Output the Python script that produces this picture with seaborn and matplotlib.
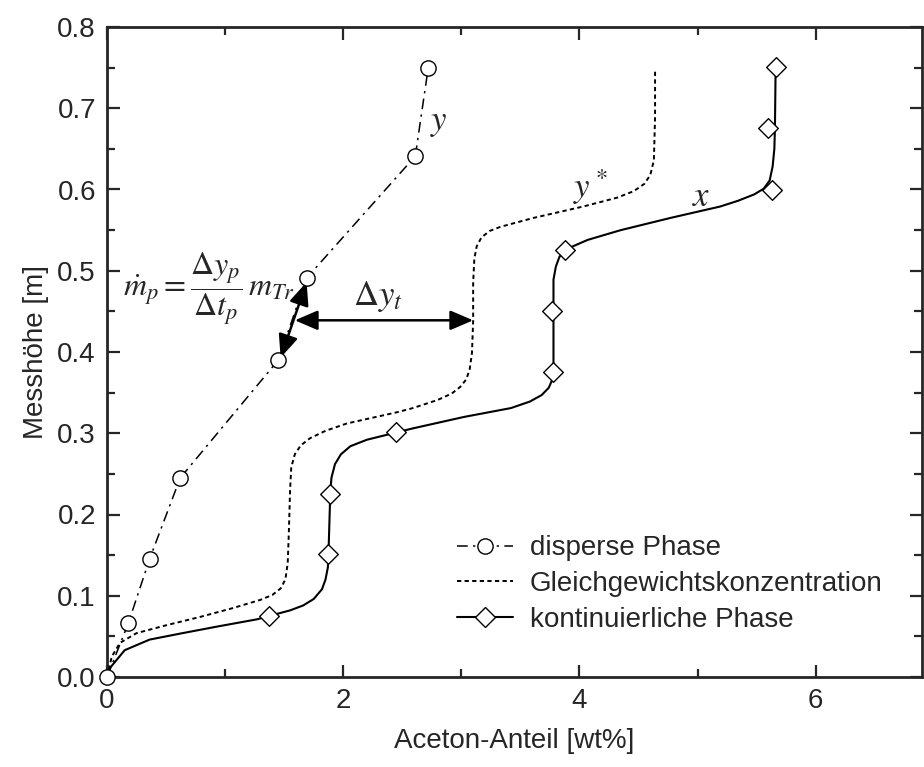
import matplotlib
matplotlib.use("Agg")
import matplotlib.pyplot as plt
import seaborn as sns
from matplotlib.lines import Line2D
from matplotlib.ticker import MultipleLocator, FormatStrFormatter

# disperse Phase (measured points, circles)
disp_x = [0, 0.18, 0.36, 0.62, 1.45, 1.69, 2.61, 2.72]
disp_y = [0, 0.066, 0.145, 0.245, 0.39, 0.491, 0.641, 0.75]

# kontinuierliche Phase (measured points, diamonds)
kont_x = [1.37, 1.875, 1.89, 2.45, 3.78, 3.77, 3.88, 5.63, 5.60, 5.66]
kont_y = [0.075, 0.151, 0.225, 0.301, 0.375, 0.45, 0.525, 0.60, 0.676, 0.751]

# fitted curve of the continuous phase
kont_curve_x = [0, 0.03, 0.15, 0.36, 0.64, 0.93, 1.27, 1.37, 1.55, 1.66, 1.75, 1.82,
                1.85, 1.87, 1.875, 1.89, 1.90, 1.93, 1.98, 2.06, 2.20, 2.45, 2.59,
                3.02, 3.42, 3.58, 3.68, 3.74, 3.77, 3.78, 3.78, 3.78, 3.80, 3.83,
                3.88, 4.07, 4.35, 4.77, 5.19, 5.34, 5.48, 5.56, 5.61, 5.635, 5.65,
                5.655, 5.66, 5.66]
kont_curve_y = [0, 0.012, 0.033, 0.046, 0.054, 0.062, 0.071, 0.075, 0.082, 0.088,
                0.096, 0.108, 0.120, 0.135, 0.151, 0.225, 0.245, 0.262, 0.274, 0.284,
                0.292, 0.301, 0.306, 0.320, 0.331, 0.339, 0.347, 0.356, 0.366, 0.374,
                0.449, 0.489, 0.505, 0.517, 0.526, 0.538, 0.550, 0.565, 0.579, 0.586,
                0.594, 0.601, 0.611, 0.628, 0.650, 0.676, 0.74, 0.751]

# Gleichgewichtskonzentration y*
gg_x = [0, 0.04, 0.11, 0.25, 0.51, 0.79, 1.07, 1.30, 1.40, 1.47, 1.51, 1.53, 1.54,
        1.55, 1.56, 1.59, 1.64, 1.72, 1.85, 2.03, 2.46, 2.59, 2.80, 2.92, 2.99,
        3.04, 3.07, 3.09, 3.10, 3.10, 3.11, 3.13, 3.17, 3.24, 3.33, 3.61, 4.03,
        4.32, 4.46, 4.55, 4.60, 4.63, 4.64, 4.64]
gg_y = [0, 0.025, 0.042, 0.054, 0.064, 0.074, 0.085, 0.095, 0.101, 0.109, 0.120,
        0.140, 0.180, 0.230, 0.258, 0.274, 0.285, 0.294, 0.303, 0.312, 0.326, 0.331,
        0.341, 0.349, 0.357, 0.366, 0.378, 0.399, 0.439, 0.485, 0.515, 0.530, 0.541,
        0.549, 0.554, 0.565, 0.579, 0.590, 0.598, 0.607, 0.618, 0.636, 0.689, 0.745]

legend_labels = ["disperse Phase", "Gleichgewichtskonzentration", "kontinuierliche Phase"]

sns.set_style("ticks")
plt.rcParams["font.family"] = ["Liberation Sans", "DejaVu Sans"]
plt.rcParams["mathtext.fontset"] = "stix"

FS = 20
fig = plt.figure(figsize=(9.24, 7.67), dpi=100)
ax = fig.add_axes([107 / 924, 90 / 767, 815 / 924, 650 / 767])

DASHDOT = (0, (7, 3.5, 1.5, 3.5))
DOTTED = (0, (2.2, 1.7))

sns.lineplot(x=disp_x, y=disp_y, ax=ax, sort=False, estimator=None, color="black",
             lw=1.1, linestyle=DASHDOT, marker="o", markersize=11,
             markerfacecolor="white", markeredgecolor="black", markeredgewidth=1.0,
             clip_on=False, zorder=4)
sns.lineplot(x=gg_x, y=gg_y, ax=ax, sort=False, estimator=None, color="black",
             lw=1.4, linestyle=DOTTED, zorder=3)
sns.lineplot(x=kont_curve_x, y=kont_curve_y, ax=ax, sort=False, estimator=None,
             color="black", lw=1.5, zorder=3)
sns.scatterplot(x=kont_x, y=kont_y, ax=ax, marker="D", s=100, color="white",
                edgecolor="black", linewidth=1.0, zorder=5, clip_on=False)

ax.set_xlim(0, 6.9)
ax.set_ylim(0, 0.8)
ax.xaxis.set_major_locator(MultipleLocator(2))
ax.xaxis.set_minor_locator(MultipleLocator(1))
ax.yaxis.set_major_locator(MultipleLocator(0.1))
ax.yaxis.set_minor_locator(MultipleLocator(0.05))
ax.yaxis.set_major_formatter(FormatStrFormatter("%.1f"))
ax.tick_params(which="both", direction="in", top=True, right=True, width=1.6,
               labelsize=FS, pad=8)
ax.tick_params(which="major", length=9)
ax.tick_params(which="minor", length=5.5)
for sp in ax.spines.values():
    sp.set_linewidth(2.0)
    sp.set_visible(True)

ax.set_xlabel("Aceton-Anteil [wt%]", fontsize=FS, labelpad=10)
ax.set_ylabel("Messhöhe [m]", fontsize=FS, labelpad=6)

# curve labels
ax.text(2.81, 0.683, r"$y$", fontsize=25, ha="center", va="center")
ax.text(4.09, 0.603, r"$y^*$", fontsize=25, ha="center", va="center")
ax.text(5.03, 0.591, r"$x$", fontsize=25, ha="center", va="center")

# arrows and formula
arrow_kw = dict(arrowstyle="<|-|>,head_length=0.7,head_width=0.3", color="black",
                lw=1.8, mutation_scale=20, shrinkA=0, shrinkB=0)
ax.annotate("", xy=(1.47, 0.393), xytext=(1.69, 0.486), arrowprops=arrow_kw)
ax.annotate("", xy=(3.10, 0.439), xytext=(1.59, 0.439), arrowprops=arrow_kw)
ax.text(2.29, 0.468, r"$\Delta y_t$", fontsize=25, ha="center", va="center")
ax.text(0.86, 0.478, r"$\dot{m}_p = \dfrac{\Delta y_p}{\Delta t_p}\, m_{Tr}$",
        fontsize=23, ha="center", va="center")

handles = [
    Line2D([], [], color="black", lw=1.1, linestyle=DASHDOT, marker="o", markersize=11,
           markerfacecolor="white", markeredgecolor="black"),
    Line2D([], [], color="black", lw=1.4, linestyle=DOTTED),
    Line2D([], [], color="black", lw=1.5, marker="D", markersize=10,
           markerfacecolor="white", markeredgecolor="black"),
]
ax.legend(handles, legend_labels, loc="upper left", bbox_to_anchor=(0.43, 0.218),
          frameon=False, fontsize=FS, handlelength=2.0, handletextpad=0.6,
          labelspacing=0.35, borderpad=0, borderaxespad=0)

fig.savefig("out.png", dpi=100)
